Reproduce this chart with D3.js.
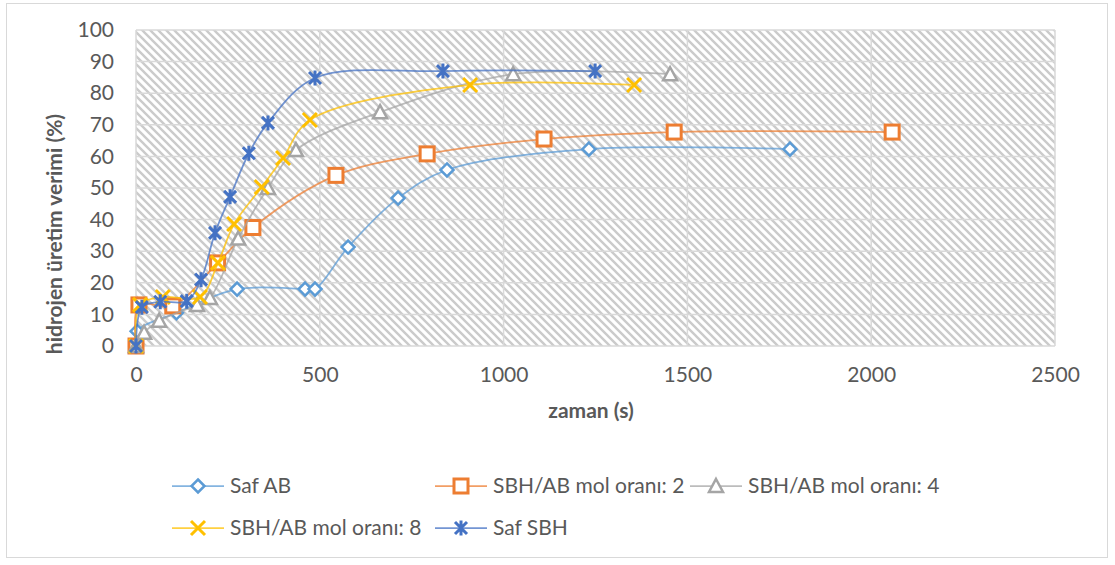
<!DOCTYPE html>
<html>
<head>
<meta charset="utf-8">
<script src="https://cdn.jsdelivr.net/npm/d3@7"></script>
<style>
  body { margin: 0; background: #fff; }
  svg { display: block; font-family: Lato, "Open Sans", sans-serif; }
</style>
</head>
<body>
<div id="chart"></div>
<script>
// hidrojen üretim verimi vs zaman
const xTicks = [0, 500, 1000, 1500, 2000, 2500];
const yTicks = [0, 10, 20, 30, 40, 50, 60, 70, 80, 90, 100];

const safAB = [[0, 0], [3, 4.7], [110, 10.5], [275, 18], [460, 18], [487, 18], [577, 31.3],
  [713, 46.8], [846, 55.7], [1232, 62.3], [1779, 62.3]];
const oran2 = [[0, 0], [8, 13], [100, 12.7], [222, 26.3], [318, 37.5], [544, 54], [792, 60.8],
  [1110, 65.5], [1464, 67.7], [2057, 67.7]];
const oran4 = [[0, 0], [22, 4.2], [63, 8], [166, 13], [201, 15.2], [278, 34], [359, 50],
  [435, 62], [664, 74], [1026, 86], [1453, 86]];
const oran8 = [[0, 0], [11, 13], [73, 15.5], [174, 15.5], [223, 26.3], [267, 38.6], [342, 50.3],
  [400, 59.5], [473, 71.5], [909, 82.6], [1355, 82.6]];
const safSBH = [[0, 0], [16, 12.3], [66, 14], [138, 14.2], [177, 21], [215, 35.8], [256, 47.2],
  [307, 61], [359, 70.6], [487, 84.8], [835, 87], [1249, 87]];

const series = [
  { name: 'Saf AB', data: safAB, color: '#5b9bd5', marker: 'diamond' },
  { name: 'SBH/AB mol oranı: 2', data: oran2, color: '#ed7d31', marker: 'square' },
  { name: 'SBH/AB mol oranı: 4', data: oran4, color: '#a5a5a5', marker: 'triangle' },
  { name: 'SBH/AB mol oranı: 8', data: oran8, color: '#ffc000', marker: 'x' },
  { name: 'Saf SBH', data: safSBH, color: '#4472c4', marker: 'star' }
];

const width = 1115, height = 565;
const plot = { left: 136, right: 1055, top: 30, bottom: 346 };
const textColor = '#595959';
const fontSize = '21px';

const svg = d3.select('#chart').append('svg')
  .attr('width', width)
  .attr('height', height);

// outer frame
svg.append('rect')
  .attr('x', 6.5).attr('y', 3.5)
  .attr('width', 1101).attr('height', 554)
  .attr('fill', '#fff')
  .attr('stroke', '#d9d9d9');

// hatch pattern for plot background
const defs = svg.append('defs');
const pat = defs.append('pattern')
  .attr('id', 'hatch')
  .attr('patternUnits', 'userSpaceOnUse')
  .attr('width', 8).attr('height', 8);
pat.append('rect').attr('width', 8).attr('height', 8).attr('fill', '#fff');
pat.append('path')
  .attr('d', 'M-2,-2 L10,10 M-2,6 L2,10 M6,-2 L10,2')
  .attr('stroke', '#cbcbcb')
  .attr('stroke-width', 2.4);

const x = d3.scaleLinear().domain([0, 2500]).range([plot.left, plot.right]);
const y = d3.scaleLinear().domain([0, 100]).range([plot.bottom, plot.top]);

svg.append('rect')
  .attr('x', plot.left).attr('y', plot.top)
  .attr('width', plot.right - plot.left)
  .attr('height', plot.bottom - plot.top)
  .attr('fill', 'url(#hatch)');

// gridlines
svg.append('g')
  .selectAll('line')
  .data(yTicks)
  .enter().append('line')
  .attr('x1', plot.left).attr('x2', plot.right)
  .attr('y1', d => y(d)).attr('y2', d => y(d))
  .attr('stroke', '#d9d9d9').attr('stroke-width', 1.5);

svg.append('g')
  .selectAll('line')
  .data(xTicks)
  .enter().append('line')
  .attr('x1', d => x(d)).attr('x2', d => x(d))
  .attr('y1', plot.top).attr('y2', plot.bottom)
  .attr('stroke', '#d9d9d9').attr('stroke-width', 1.5);

// axes (labels only)
const yAxis = svg.append('g')
  .attr('transform', `translate(${plot.left - 22},0)`)
  .call(d3.axisLeft(y).tickValues(yTicks).tickSize(0).tickPadding(0));
const xAxis = svg.append('g')
  .attr('transform', `translate(0,${plot.bottom + 14})`)
  .call(d3.axisBottom(x).tickValues(xTicks).tickSize(0).tickPadding(7).tickFormat(d3.format('d')));
[yAxis, xAxis].forEach(a => {
  a.select('.domain').remove();
  a.selectAll('text')
    .style('font-size', fontSize)
    .style('fill', textColor)
    .style('font-family', 'Lato, sans-serif');
});

// axis titles
svg.append('text')
  .attr('transform', 'translate(62,234) rotate(-90)')
  .attr('text-anchor', 'middle')
  .style('font-size', fontSize)
  .style('font-weight', 'bold')
  .style('fill', textColor)
  .text('hidrojen üretim verimi (%)');

svg.append('text')
  .attr('x', 591)
  .attr('y', 418)
  .attr('text-anchor', 'middle')
  .style('font-size', fontSize)
  .style('font-weight', 'bold')
  .style('fill', textColor)
  .text('zaman (s)');

// marker drawing
function drawMarker(g, type, color) {
  if (type === 'diamond') {
    g.append('path').attr('d', 'M0,-6.5 L6.5,0 L0,6.5 L-6.5,0 Z')
      .attr('fill', '#fff').attr('stroke', color).attr('stroke-width', 2.5);
  } else if (type === 'square') {
    g.append('rect').attr('x', -7).attr('y', -7).attr('width', 14).attr('height', 14)
      .attr('fill', '#fff').attr('stroke', color).attr('stroke-width', 3);
  } else if (type === 'triangle') {
    g.append('path').attr('d', 'M0,-7 L7,6 L-7,6 Z')
      .attr('fill', '#fff').attr('stroke', color).attr('stroke-width', 2.5);
  } else if (type === 'x') {
    g.append('path').attr('d', 'M-7,-7 L7,7 M-7,7 L7,-7')
      .attr('stroke', color).attr('stroke-width', 3);
  } else if (type === 'star') {
    g.append('path').attr('d', 'M-6,-6 L6,6 M-6,6 L6,-6 M0,-7.5 L0,7.5')
      .attr('stroke', color).attr('stroke-width', 3);
  }
}

const line = d3.line()
  .x(d => x(d[0]))
  .y(d => y(d[1]))
  .curve(d3.curveCatmullRom.alpha(0.5));

series.forEach(s => {
  const g = svg.append('g');
  g.append('path')
    .attr('d', line(s.data))
    .attr('fill', 'none')
    .attr('stroke', s.color)
    .attr('stroke-opacity', 0.75)
    .attr('stroke-width', 1.75);
  s.data.forEach(d => {
    const m = g.append('g').attr('transform', `translate(${x(d[0])},${y(d[1])})`);
    drawMarker(m, s.marker, s.color);
  });
});

// legend
const legendPos = [[172, 486], [435, 486], [690, 486], [172, 528], [435, 528]];
series.forEach((s, i) => {
  const [lx, ly] = legendPos[i];
  const lg = svg.append('g').attr('transform', `translate(${lx},${ly})`);
  lg.append('line')
    .attr('x1', 0).attr('x2', 52)
    .attr('stroke', s.color).attr('stroke-opacity', 0.75).attr('stroke-width', 1.75);
  drawMarker(lg.append('g').attr('transform', 'translate(26,0)'), s.marker, s.color);
  lg.append('text')
    .attr('x', 58).attr('dy', '0.35em')
    .style('font-size', fontSize)
    .style('fill', textColor)
    .text(s.name);
});
</script>
</body>
</html>
